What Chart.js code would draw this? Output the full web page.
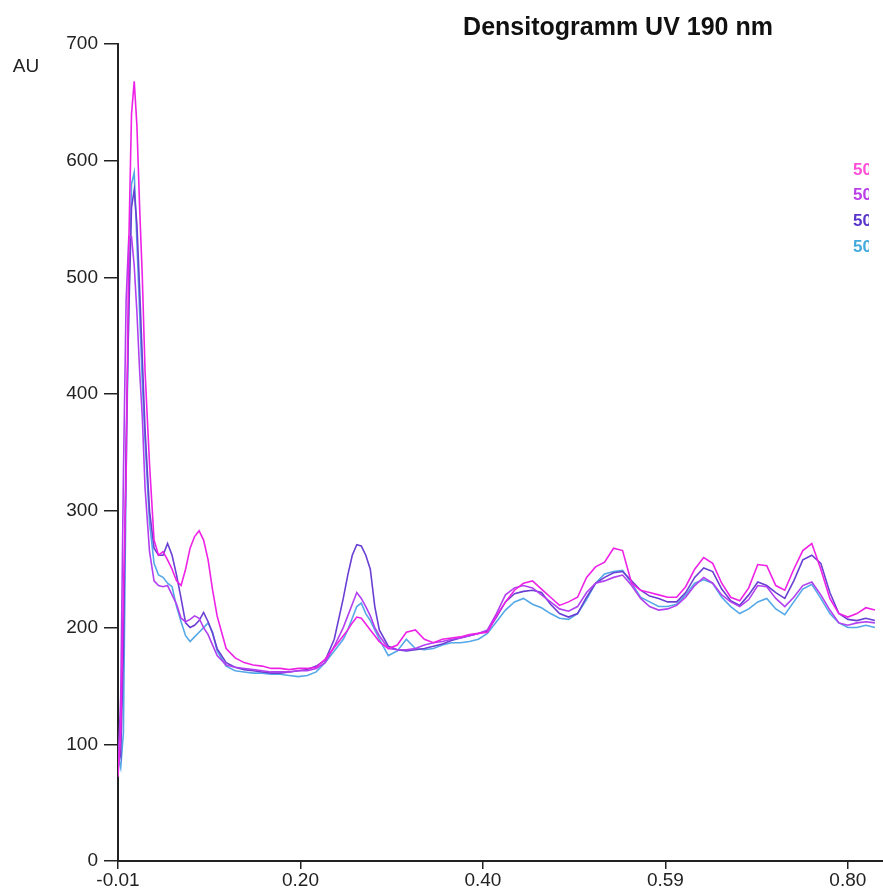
<!DOCTYPE html>
<html>
<head>
<meta charset="utf-8">
<script src="https://cdn.jsdelivr.net/npm/chart.js@4.4.1/dist/chart.umd.min.js"></script>
<style>
  html, body { margin: 0; padding: 0; background: #fff; overflow: hidden; }
  #wrap { position: relative; width: 883px; height: 891px; }
</style>
</head>
<body>
<div id="wrap"><canvas id="densChart"></canvas></div>
<script>
// Rf positions (shared by all tracks)
const rf = [
  -0.010, -0.007, -0.004, -0.001, 0.002, 0.005, 0.008, 0.011, 0.014, 0.017,
  0.020, 0.025, 0.030, 0.035, 0.040, 0.045, 0.050, 0.055, 0.060, 0.065,
  0.070, 0.075, 0.080, 0.085, 0.090, 0.095, 0.100, 0.11, 0.12, 0.13,
  0.14, 0.15, 0.16, 0.17, 0.18, 0.19, 0.20, 0.21, 0.22, 0.23,
  0.24, 0.245, 0.25, 0.255, 0.26, 0.265, 0.27, 0.275, 0.28, 0.29,
  0.30, 0.31, 0.32, 0.33, 0.34, 0.35, 0.36, 0.37, 0.38, 0.39,
  0.40, 0.41, 0.42, 0.43, 0.44, 0.45, 0.46, 0.47, 0.48, 0.49,
  0.50, 0.51, 0.52, 0.53, 0.54, 0.55, 0.56, 0.57, 0.58, 0.59,
  0.60, 0.61, 0.62, 0.63, 0.64, 0.65, 0.66, 0.67, 0.68, 0.69,
  0.70, 0.71, 0.72, 0.73, 0.74, 0.75, 0.76, 0.77, 0.78, 0.79,
  0.80, 0.81, 0.82, 0.83
];

const track1 = [
  72, 110, 230, 330, 530, 640, 668, 630, 560, 500,
  420, 340, 275, 262, 265, 258, 250, 240, 236, 250,
  268, 278, 283, 275, 258, 232, 210, 182, 174, 170,
  168, 167, 165, 165, 164, 165, 165, 166, 173, 183,
  193, 198, 204, 209, 208, 203, 198, 193, 188, 182,
  185, 196, 198, 190, 187, 190, 191, 192, 194, 195,
  196, 210, 222, 232, 238, 240, 233, 226, 219, 222,
  226, 243, 252, 256, 268, 266, 238, 232, 230, 228,
  226, 226, 235, 250, 260, 255, 238, 226, 223, 234,
  254, 253, 236, 232, 250, 266, 272, 250, 225, 212,
  209, 212, 217, 215
];

const track2 = [
  80, 140, 330, 480, 535, 535, 510, 470, 420, 380,
  320, 265, 240, 236, 235, 236, 228, 220, 208, 205,
  207, 210, 208, 200, 194, 185, 176, 168, 166, 165,
  164, 163, 162, 162, 162, 163, 163, 165, 170, 184,
  200, 210, 220, 230, 225, 218, 210, 200, 193, 182,
  181, 181, 182, 185, 187, 188, 190, 191, 193, 195,
  198, 212, 228, 234, 236, 234, 228, 222, 216, 214,
  218, 230, 238, 240, 243, 245, 236, 225, 218, 215,
  216, 219, 226, 236, 243, 238, 228, 222, 218, 224,
  236, 235, 225, 218, 226, 236, 239, 228, 215, 204,
  202, 204, 205, 204
];

const track3 = [
  100, 90, 180, 360, 470, 560, 575, 545, 490, 430,
  370, 300, 268, 262, 262, 272, 262, 245, 225, 204,
  200, 202, 206, 213, 205, 195, 182, 170, 166, 164,
  163, 162, 161, 161, 162, 163, 164, 167, 172, 190,
  225, 245, 262, 271, 270, 262, 250, 218, 198, 184,
  181, 180, 181, 182, 184, 186, 189, 191, 193, 195,
  197, 209, 222, 229, 231, 232, 230, 220, 212, 209,
  212, 226, 238, 243, 247, 248, 240, 232, 227, 225,
  222, 222, 230, 243, 251, 248, 233, 223, 219, 228,
  239, 236, 230, 225, 240, 258, 262, 255, 230, 212,
  207, 206, 208, 206
];

const track4 = [
  90, 80, 110, 330, 480, 580, 590, 530, 470, 410,
  360, 290, 255, 245, 243, 238, 235, 218, 205, 193,
  188, 192, 196, 200, 204, 196, 180, 167, 163, 162,
  161, 161, 160, 160, 159, 158, 159, 162, 170, 180,
  190, 198, 208, 218, 221, 212, 206, 198, 190, 176,
  180, 190, 182, 181, 182, 185, 187, 187, 188, 190,
  195, 205, 215, 222, 225, 220, 217, 212, 208, 207,
  212, 224, 238, 246, 248, 249, 238, 226, 222, 218,
  218, 220, 228, 238, 241, 238, 226, 218, 212, 216,
  222, 225, 216, 211, 222, 233, 237, 225, 212, 204,
  200, 200, 202, 200
];

const trackLabels = ['50 µl (1)', '50 µl (2)', '50 µl (3)', '50 µl (4)'];
const lineColors = ['#ee22e6', '#b23ff0', '#6a3fd4', '#55a8e8'];
const legendColors = ['#ff4fd8', '#bb40e8', '#5a35cc', '#44aadd'];

const xTickValues = [-0.01, 0.1925, 0.395, 0.5975, 0.80];
const xTickLabels = ['-0.01', '0.20', '0.40', '0.59', '0.80'];
const yTickValues = [0, 100, 200, 300, 400, 500, 600, 700];

const FONT = 'Liberation Sans, Arial, Helvetica, sans-serif';
Chart.defaults.font.family = FONT;
Chart.defaults.color = '#222';

const series = [track1, track2, track3, track4];
const datasets = series.map((vals, i) => ({
    label: trackLabels[i],
    data: rf.map((x, k) => ({ x: x, y: vals[k] })),
    borderColor: lineColors[i],
    backgroundColor: 'transparent',
    borderWidth: 1.6,
    pointRadius: 0,
    tension: 0
}));

// title, unit label and the legend, which is cut off at the right edge
const decor = {
    id: 'decor',
    afterDraw(chart) {
        const c = chart.ctx;
        c.save();
        c.fillStyle = '#111';
        c.font = 'bold 25px ' + FONT;
        c.textAlign = 'center';
        c.textBaseline = 'middle';
        c.fillText('Densitogramm UV 190 nm', 618, 28);

        c.font = '19px ' + FONT;
        c.fillStyle = '#222';
        c.fillText('AU', 26, 67);

        c.beginPath();
        c.rect(840, 140, 29, 130);
        c.clip();
        c.font = 'bold 17px ' + FONT;
        c.textAlign = 'left';
        trackLabels.forEach((t, i) => {
            c.fillStyle = legendColors[i];
            c.fillText(t, 853, 170 + i * 25.8);
        });
        c.restore();
    }
};

const ctx = document.getElementById('densChart').getContext('2d');
new Chart(ctx, {
    type: 'line',
    data: { datasets: datasets },
    options: {
        responsive: true,
        maintainAspectRatio: false,
        animation: false,
        layout: { padding: { top: 44, left: 0, right: 0, bottom: 0 } },
        scales: {
            x: {
                type: 'linear',
                min: -0.01,
                max: 0.839,
                afterBuildTicks: (s) => { s.ticks = xTickValues.map(v => ({ value: v })); },
                afterFit: (s) => { s.height = 30; },
                ticks: {
                    autoSkip: false,
                    maxRotation: 0,
                    padding: 0,
                    font: { size: 19 },
                    color: '#222',
                    callback: (v, i) => xTickLabels[i]
                },
                grid: { drawOnChartArea: false, drawTicks: true, tickLength: 8, color: '#222', lineWidth: 1.5 },
                border: { display: true, color: '#222', width: 2 }
            },
            y: {
                min: 0,
                max: 700,
                afterBuildTicks: (s) => { s.ticks = yTickValues.map(v => ({ value: v })); },
                afterFit: (s) => { s.width = 118; },
                ticks: {
                    padding: 6,
                    font: { size: 19 },
                    color: '#222'
                },
                grid: { drawOnChartArea: false, drawTicks: true, tickLength: 14, color: '#222', lineWidth: 1.5 },
                border: { display: true, color: '#222', width: 2 }
            }
        },
        plugins: {
            legend: { display: false },
            tooltip: { enabled: false }
        }
    },
    plugins: [decor]
});
</script>
</body>
</html>
